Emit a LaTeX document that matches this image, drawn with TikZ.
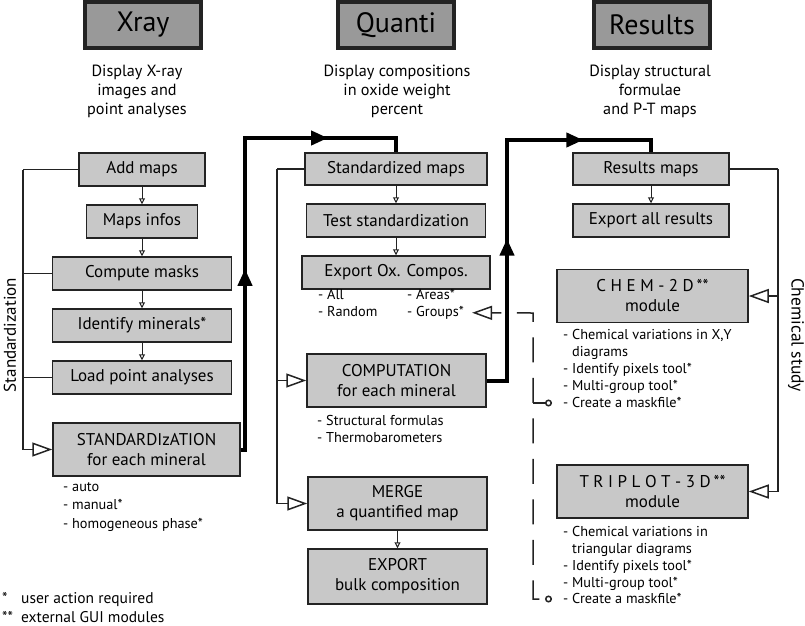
\documentclass[tikz,border=0pt]{standalone}
\usepackage{fontspec}
\setmainfont{PT Sans}
\usetikzlibrary{
  arrows.meta,
  positioning,
  calc
}
\definecolor{BoxGray}{RGB}{200,200,200}
\definecolor{HeadGray}{RGB}{153,153,153}
\definecolor{EdgeDark}{RGB}{35,35,35}
\tikzset{
  stepbox/.style={
    draw=EdgeDark,
    fill=BoxGray,
    line width=1.5pt,
    minimum height=33pt,
    align=center,
    font=\fontsize{17}{20}\selectfont,
    inner xsep=4pt,
    inner ysep=2pt
  },
  tallbox/.style={stepbox,minimum width=179pt,minimum height=53pt},
  headbox/.style={
    draw=EdgeDark,
    fill=HeadGray,
    line width=4pt,
    minimum width=116pt,
    minimum height=46pt,
    font=\fontsize{28}{30}\selectfont
  },
  subtitle/.style={align=center,font=\fontsize{16.2}{19}\selectfont},
  bullets/.style={align=left,anchor=north west,inner sep=0pt,font=\fontsize{14.3}{17}\selectfont},
  link/.style={-{Triangle[open,length=6pt,width=6pt]},line width=1pt,draw=EdgeDark},
  rail/.style={line width=1.5pt,draw=EdgeDark},
  railarrow/.style={rail,-{Triangle[open,length=20pt,width=14pt]}},
  heavy/.style={line width=4pt,draw=black,line join=miter},
  heavyarrow/.style={heavy,-{Triangle[length=17pt,width=14pt]}},
  dashlink/.style={rail,dash pattern=on 25pt off 15.5pt,dash phase=15.5pt}
}

\begin{document}
\begin{tikzpicture}[x=1pt,y=-1pt,node distance=17.5pt]
  \useasboundingbox (0,0) rectangle (805,625);

  % column heads
  \node[headbox] (xray) at (143,25) {Xray};
  \node[headbox] (quanti) at (396,25) {Quanti};
  \node[headbox] (results) at (652,25) {Results};
  \node[subtitle] (xraysub) at (137,91) {Display X-ray\\images and\\point analyses};
  \node[subtitle] (quantisub) at (397,91) {Display compositions\\in oxide weight\\percent};
  \node[subtitle] (resultsub) at (650,91) {Display structural\\formulae\\and P-T maps};

  % Xray column
  \node[stepbox, minimum width=126pt] (addmaps) at (142,169.5) {Add maps};
  \node[stepbox, minimum width=111pt, below=of addmaps] (mapsinfo) {Maps infos};
  \node[stepbox, minimum width=179pt, below=of mapsinfo] (compmask) {Compute masks};
  \node[stepbox, minimum width=179pt, below=of compmask] (identmin) {Identify minerals*};
  \node[stepbox, minimum width=179pt, below=of identmin] (loadpt) {Load point analyses};
  \node[tallbox, minimum width=187pt] (stdz) at (146.5,449.5) {STANDARDIzATION\\for each mineral};
  \node[bullets, font=\fontsize{14.3}{18.5}\selectfont] (stdzlist) at (63,482) {- auto\\- manual*\\- homogeneous phase*};

  \draw[link] (addmaps) -- (mapsinfo);
  \draw[link] (mapsinfo) -- (compmask);
  \draw[link] (compmask) -- (identmin);
  \draw[link] (identmin) -- (loadpt);

  % Quanti column
  \node[stepbox, minimum width=182pt, minimum height=32pt] (stdmaps) at (396,169) {Standardized maps};
  \node[stepbox, minimum width=179pt, below=of stdmaps] (teststd) {Test standardization};
  \node[stepbox, minimum width=188pt, below=of teststd] (exportox) {Export Ox. Compos.};
  \node[bullets] (exportlist) at (318,289) {- All\\- Random};
  \node[bullets] (areas) at (407,289) {- Areas*};
  \node[bullets] (groups) at (407,306) {- Groups*};
  \node[tallbox] (comput) at (396.5,380.5) {COMPUTATION\\for each mineral};
  \node[bullets] (computlist) at (317,415) {- Structural formulas\\- Thermobarometers};
  \node[tallbox] (merge) at (397.5,503.5) {MERGE\\a quantified map};
  \node[tallbox, minimum height=55pt, below=of merge] (bulk) {EXPORT\\bulk composition};

  \draw[link] (stdmaps) -- (teststd);
  \draw[link] (teststd) -- (exportox);
  \draw[link] (merge) -- (bulk);

  % Results column
  \node[stepbox, minimum width=156pt, minimum height=32pt] (resmaps) at (651,169) {Results maps};
  \node[stepbox, minimum width=156pt, below=of resmaps] (exportall) {Export all results};
  \node[tallbox, minimum width=191pt] (chem) at (652.5,296) {C H E M - 2 D\,**\\module};
  \node[bullets] (chemlist) at (563,329.5) {- Chemical variations in X,Y\\\hspace*{9pt}diagrams\\- Identify pixels tool*\\- Multi-group tool*\\- Create a maskfile*};
  \node[tallbox, minimum width=191pt] (triplot) at (652.5,491.5) {T R I P L O T - 3 D\,**\\module};
  \node[bullets, font=\fontsize{14.3}{16.75}\selectfont] (triplotlist) at (563,526.5) {- Chemical variations in\\\hspace*{9pt}triangular diagrams\\- Identify pixels tool*\\- Multi-group tool*\\- Create a maskfile*};

  \draw[link] (resmaps) -- (exportall);

  % side labels and legend
  \node[rotate=90, font=\fontsize{17}{20}\selectfont] (stdlabel) at (10,335) {Standardization};
  \node[rotate=-90, font=\fontsize{17.5}{20}\selectfont] (chemlabel) at (796,335) {Chemical study};
  \node[bullets, font=\fontsize{15.5}{19}\selectfont] (legend) at (2,592)
    {\makebox[19pt][l]{*}user action required\\\makebox[19pt][l]{**}external GUI modules};

  % rails
  \coordinate (lrail) at (23,169.5);
  \draw[rail] (addmaps.west) -- (lrail);
  \draw[railarrow] (lrail) |- (stdz.west);
  \draw[rail] (compmask.west) -- (compmask.west -| lrail);
  \draw[rail] (loadpt.west) -- (loadpt.west -| lrail);

  \coordinate (mrail) at (277,169);
  \draw[rail] (stdmaps.west) -- (mrail);
  \draw[railarrow] (mrail) |- (merge.west);
  \draw[railarrow] (comput.west -| mrail) -- (comput.west);

  \coordinate (rrail) at (778,169);
  \draw[rail] (resmaps.east) -- (rrail);
  \draw[railarrow] (rrail) |- (triplot.east);
  \draw[railarrow] (chem.east -| rrail) -- (chem.east);

  % heavy transfer paths
  \coordinate (lift1) at (245,138);
  \draw[heavy] (stdz.east) -| (lift1) -| (stdmaps.north);
  \draw[heavyarrow] (stdz.east -| lift1) -- ($(lift1)!0.42!(stdz.east -| lift1)$);
  \draw[heavyarrow] (lift1) -- ($(lift1)!0.55!(lift1 -| stdmaps.north)$);

  \coordinate (lift2) at (507,140);
  \draw[heavy] (comput.east) -| (lift2) -| (resmaps.north);
  \draw[heavyarrow] (comput.east -| lift2) -- ($(lift2)!0.41!(comput.east -| lift2)$);
  \draw[heavyarrow] (lift2) -- ($(lift2)!0.53!(lift2 -| resmaps.north)$);

  % maskfile feedback
  \coordinate (dashtop) at (533,313);
  \coordinate (mask1) at (552,403);
  \coordinate (mask2) at (552,599);
  \draw[dashlink, {Triangle[open,length=20pt,width=14pt]}-{Circle[open,length=7pt]}]
    ([xshift=8pt]groups.east) -- (dashtop) |- (mask2);
  \draw[rail, {Circle[open,length=7pt]}-] (mask1) -- (mask1 -| dashtop);
\end{tikzpicture}
\end{document}
